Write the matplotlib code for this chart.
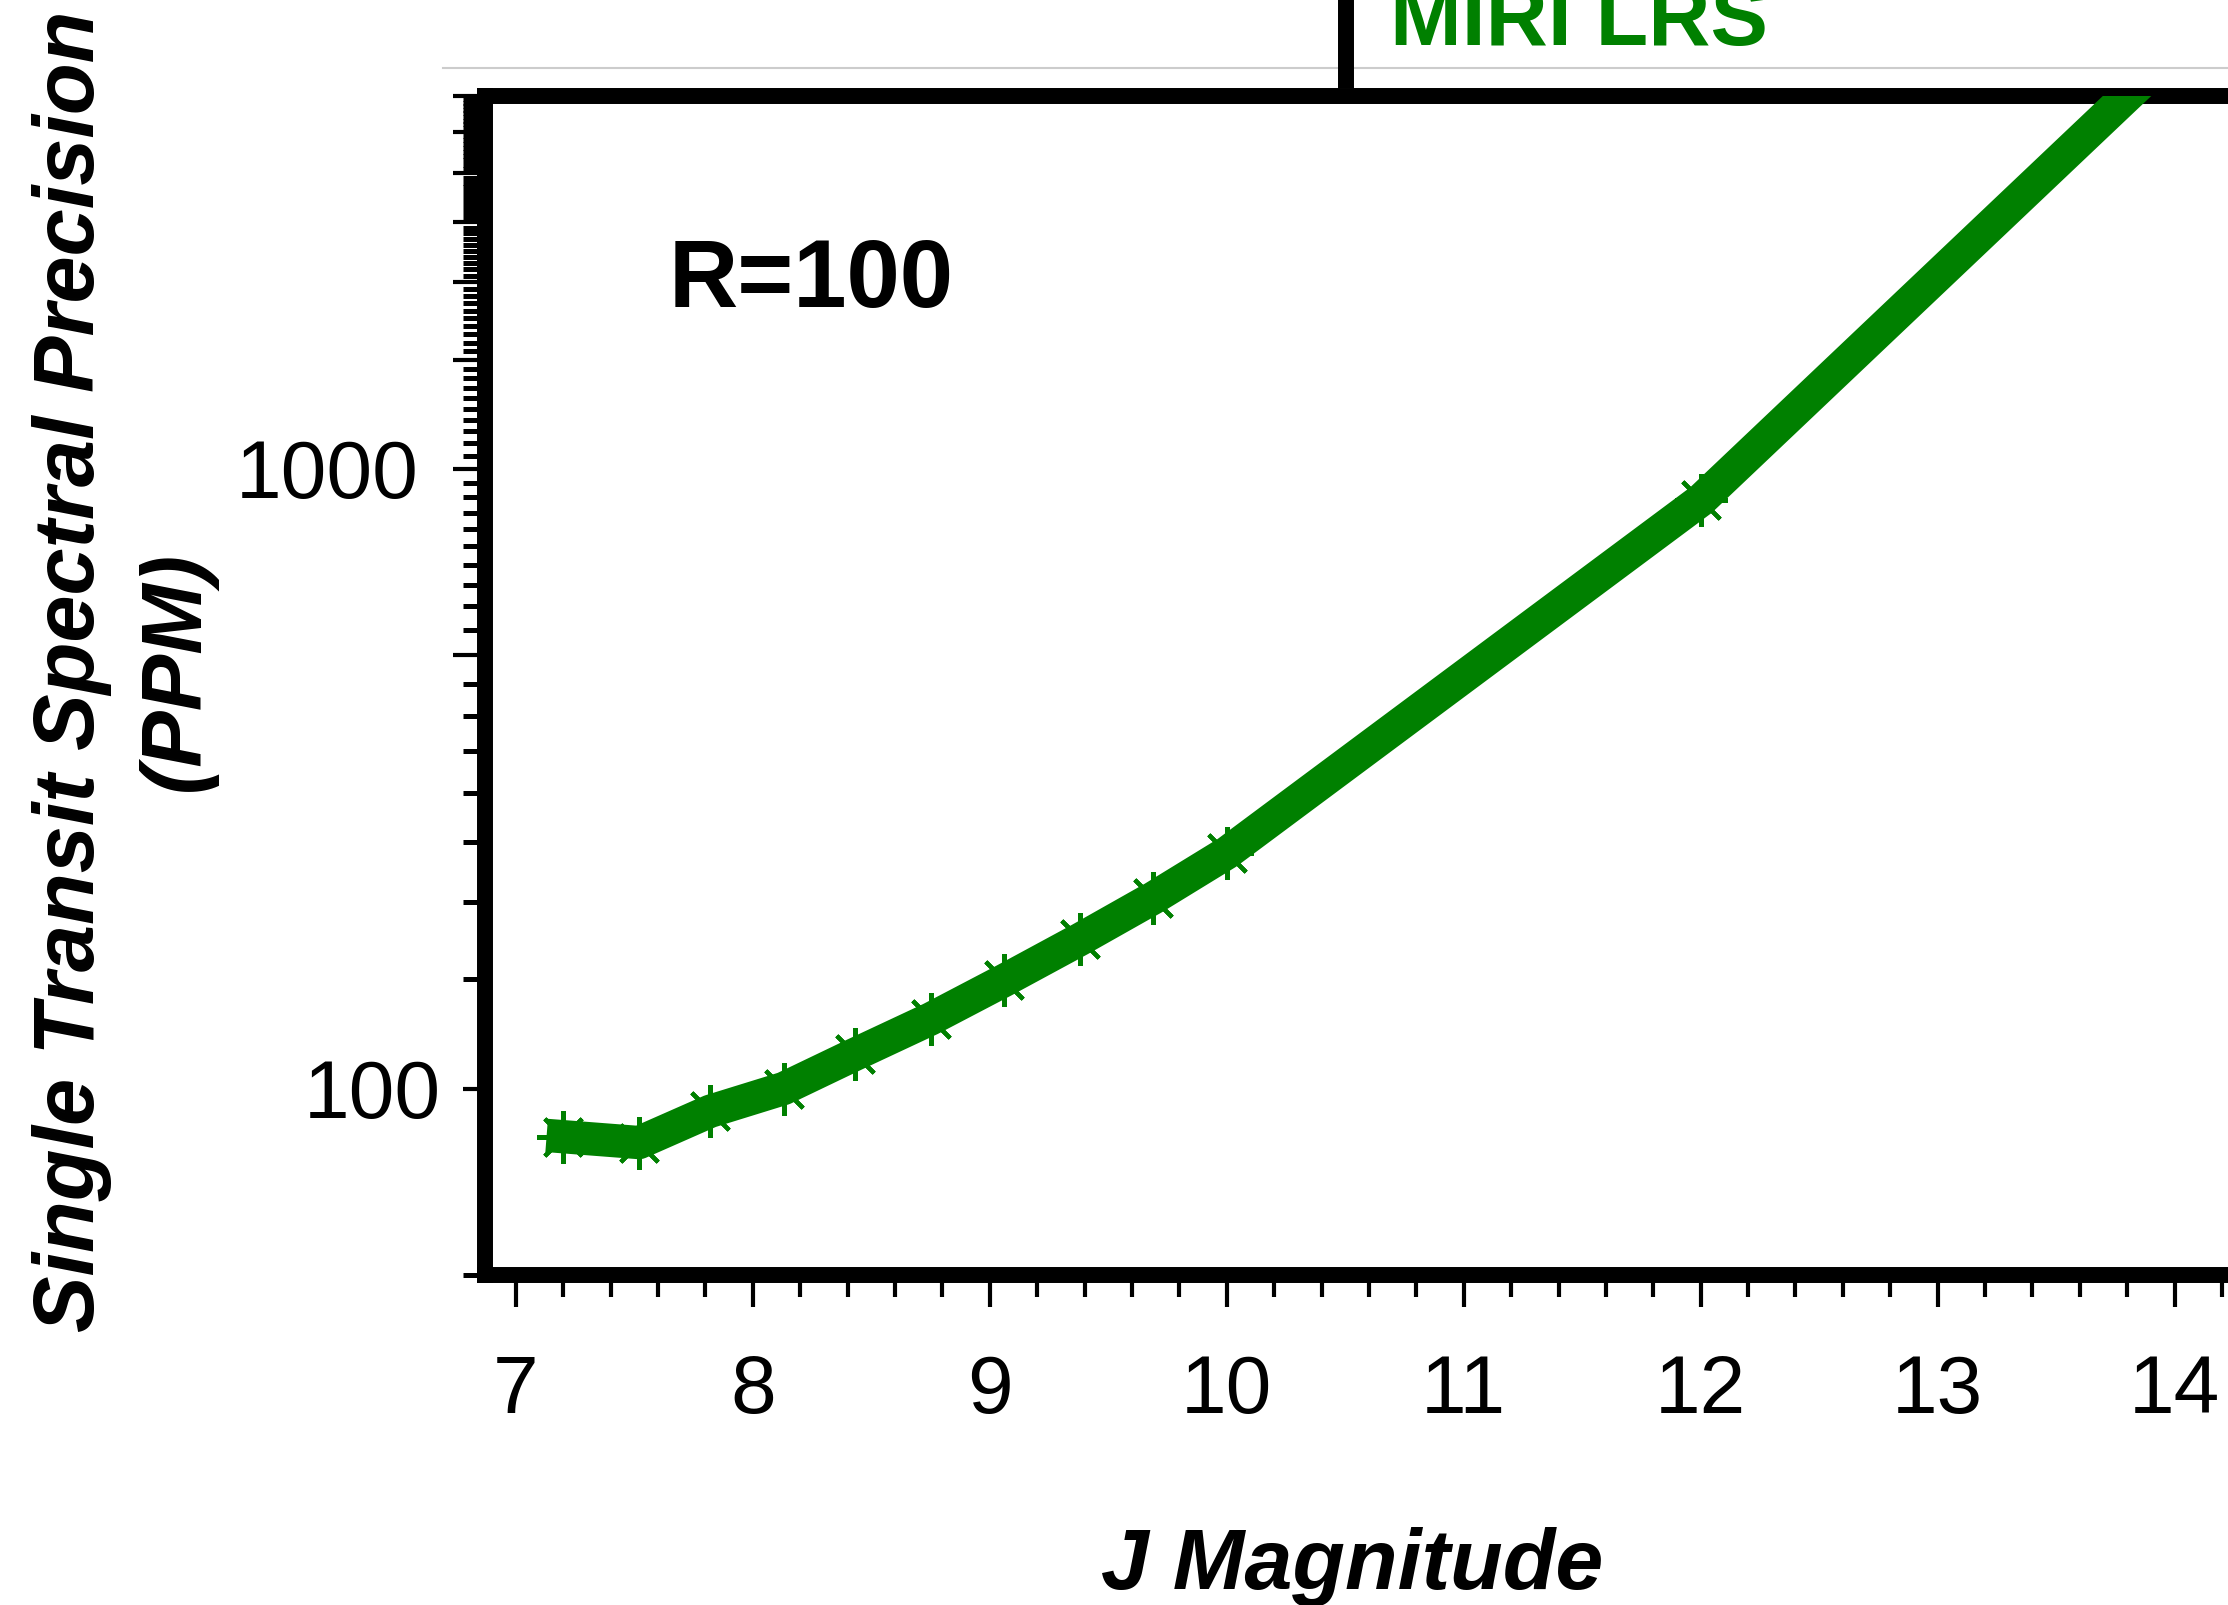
# Single transit precision vs J magnitude (MIRI LRS, R=100)

import numpy as np
import matplotlib
matplotlib.use('Agg')
import matplotlib.pyplot as plt
from matplotlib.lines import Line2D
from matplotlib.ticker import NullFormatter

plt.rcParams['font.family'] = ['Liberation Sans', 'DejaVu Sans']

# values
j_mag = [7.2, 7.52, 7.82, 8.13, 8.43, 8.75, 9.06, 9.38, 9.69, 10.0, 12.0, 14.0]
precision_ppm = [83.6, 81.8, 91.9, 100, 113.5, 129.5, 149.4, 174, 203, 240, 890, 4730]

x_ticks = [7, 8, 9, 10, 11, 12, 13, 14, 15]
x_minor = list(np.arange(7.0, 15.01, 0.2))
y_major = [100, 500, 1000, 1500, 2000, 2500, 3000, 3500, 4000]
y_major_labels = ['100', '', '1000', '', '', '', '', '', '']
y_minor = list(range(50, 4001, 50))

fig = plt.figure(figsize=(22.28, 16.05), dpi=100)
ax = fig.add_axes([0.2175, 0.2056, 0.9, 0.7346])

ax.plot(j_mag, precision_ppm, color='green', lw=24, marker=(8, 2, 0),
        ms=38, mew=3, zorder=3, solid_joinstyle='round')

ax.set_yscale('log')
ax.set_ylim(50, 4000)
ax.set_xlim(6.868, 15.33)

ax.set_xticks(x_ticks)
ax.set_xticks(x_minor, minor=True)
ax.set_yticks(y_major, labels=y_major_labels)
ax.set_yticks(y_minor, minor=True)
ax.yaxis.set_minor_formatter(NullFormatter())

ax.tick_params(axis='both', which='major', direction='out', length=22.7,
               width=3, labelsize=59)
ax.tick_params(axis='both', which='minor', direction='out', length=15.6, width=3)
ax.tick_params(axis='y', which='minor', width=3.6)
ax.tick_params(axis='x', which='major', pad=34.5)
ax.tick_params(axis='y', which='major', pad=24.8)

# the 100 tick is short and its label sits closer
yt = ax.yaxis.get_major_ticks()
yt[0].set_pad(8.6)
yt[0].tick1line.set_markersize(15.6)

for s in ax.spines.values():
    s.set_linewidth(11.5)
    s.set_capstyle('projecting')

ax.set_ylabel('Single Transit Spectral Precision\n(PPM)', fontsize=61,
              fontweight='bold', fontstyle='italic', linespacing=1.4)
ax.yaxis.set_label_coords(-0.1795, 0.512)
ax.yaxis.label.set_va('center')

ax.set_xlabel('J Magnitude', fontsize=62, fontweight='bold', fontstyle='italic')
ax.xaxis.set_label_coords(0.4327, -0.2663)
ax.xaxis.label.set_va('baseline')

ax.text(0.092, 0.821, 'R=100', transform=ax.transAxes, fontsize=69,
        fontweight='bold', va='baseline', ha='left')

fig.text(0.624, 0.972, 'MIRI LRS', fontsize=62, fontweight='bold',
         color='green', va='baseline')

# bits of the surrounding panel
fig.add_artist(Line2D([0.1988, 1.0], [0.9576, 0.9576], color='#cccccc', lw=1.5,
                      transform=fig.transFigure))
fig.add_artist(Line2D([0.604, 0.604], [0.945, 1.0], color='black', lw=11.5,
                      transform=fig.transFigure, solid_capstyle='butt'))

fig.savefig('out.png', dpi=100)
